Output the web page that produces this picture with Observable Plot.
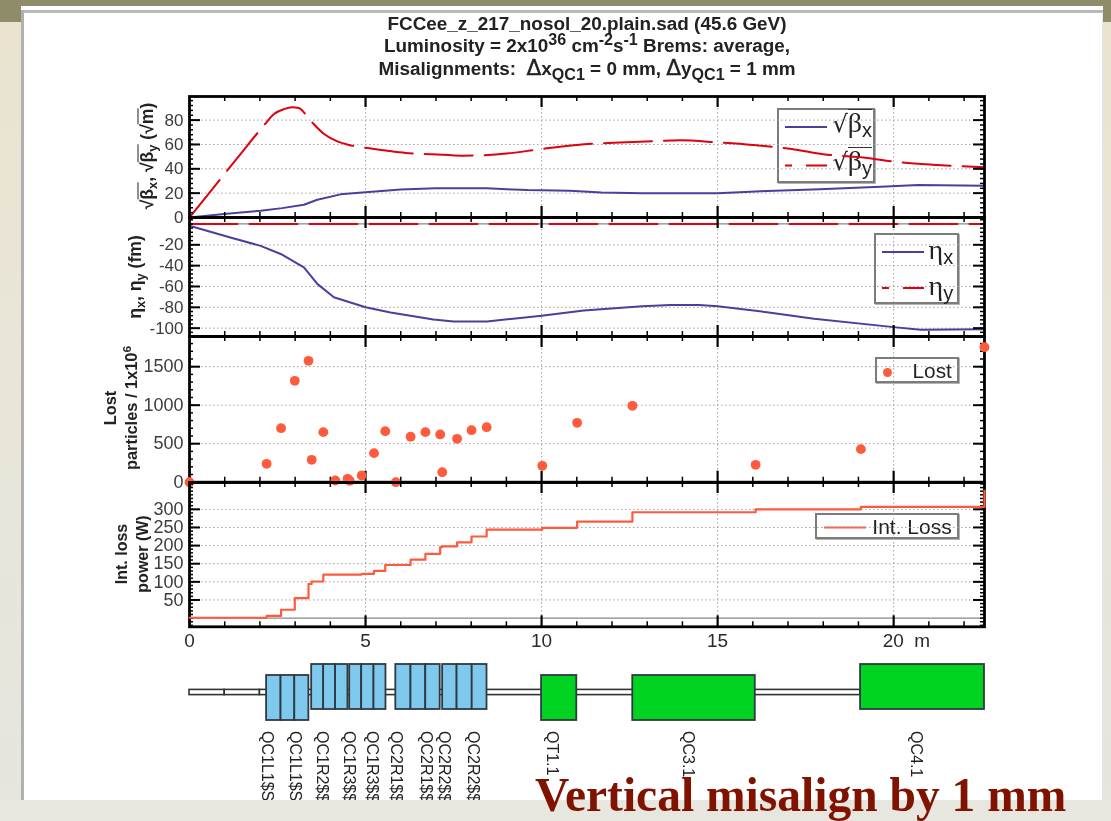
<!DOCTYPE html>
<html><head><meta charset="utf-8">
<script src="https://cdn.jsdelivr.net/npm/d3@7"></script>
<script src="https://cdn.jsdelivr.net/npm/@observablehq/plot@0.6"></script>
<style>
html,body{margin:0;padding:0;background:#e6e4dc;overflow:hidden}
#page{position:relative;width:1111px;height:821px;overflow:hidden;font-family:"Liberation Sans",Arial,sans-serif;filter:blur(.55px)}
.ytitle{position:absolute;transform:translate(-50%,-50%) rotate(-90deg);white-space:nowrap;text-align:center;font-weight:bold;color:#222;line-height:21px;font-size:16px}
.ytitle sub,.ytitle sup,.leg sub{font-size:.72em;line-height:0}
.bar{border-top:1.5px solid #222;padding-top:0;display:inline-block;line-height:1}
.leg{position:absolute;border:2px solid #7c7c7c;box-shadow:1px 1px 0 #b4b4b4;box-sizing:border-box;color:#222;z-index:1}
.leg svg{position:absolute;left:-.5px;top:-.5px;overflow:visible}
.leg span.t{position:absolute;white-space:nowrap}
#title{position:absolute;left:587px;top:13px;transform:translateX(-50%);text-align:center;font-weight:bold;font-size:18.9px;line-height:22px;color:#222;white-space:nowrap;z-index:2}
#title sup{font-size:.85em;line-height:0;vertical-align:.45em}
#title sub{font-size:.85em;line-height:0;vertical-align:-.3em}
#title .d{font-size:1.15em;font-family:"DejaVu Sans";font-weight:normal;-webkit-text-stroke:.4px #222}
</style></head>
<body><div id="page"></div>
<script>
// ---- values ----
const sMax = 22.58;
const betaS  = [0,0.5,1,1.5,2.11,2.4,2.68,2.92,3.1,3.42,3.82,4.2,4.53,5,5.57,6.14,6.9,7.75,9,10,11,12.6,13.95,15,16,17.1,18,19.25,20,21.1,22.58];
const betaY  = [0,18,36,54,75.5,85,89,90.5,90,80,68.6,62.6,59.6,57.3,55,53,52,50.8,52.5,56.3,59.6,62,63.4,61.7,59.6,56.3,52,48.9,46,43.4,41.3];
const betaXs = [0,0.98,2.02,2.63,3.25,3.63,4.29,5,6,7,8.45,9.6,10.8,11.7,12.86,15,16.08,17.9,19.63,20.7,22.58];
const betaX  = [0,2.8,5.5,7.7,10.5,14.6,19,20.7,23,24,24,22.5,22,20.6,20,20,21.4,23.3,25.3,26.6,26];
const etaS   = [0,1.16,2.02,2.59,3.25,3.63,4.1,5,5.71,6.93,7.5,8.45,10,11.2,12.86,13.66,14.47,15,16.4,17.74,20,20.77,22.58];
const etaX   = [-1.7,-13,-21,-28.8,-41.6,-57.5,-70.3,-80,-85,-91.7,-93.6,-93.6,-88,-83,-79,-77.7,-77.7,-79,-84.7,-91,-99,-101.5,-101];
const etaYs  = [0,22.58];
const etaY   = [0,0];
const lostS  = [0,2.19,2.6,2.99,3.38,3.47,3.8,4.14,4.49,4.55,4.89,5.24,5.56,5.86,6.28,6.7,7.12,7.18,7.6,8.01,8.44,10.02,11.01,12.58,16.08,19.07,22.58];
const lost   = [0,239,701,1317,1576,291,650,22,44,18,87,377,662,0,590,650,620,130,563,675,714,213,771,992,226,429,1753];
const intLoss= [1,6,23,55,94,101,120,120,120,120,122,130,146.5,146.5,161,177,196,198,209,225,244,249,266,292,300,307,351];
const sliceStart = [2.19,2.6,2.99,3.47,3.81,4.15,4.55,4.89,5.24,5.86,6.29,6.71,7.19,7.6,8.03,10,12.59,19.06];
const sliceEnd   = [2.6,2.99,3.39,3.81,4.15,4.5,4.89,5.24,5.58,6.29,6.71,7.12,7.6,8.03,8.45,11,16.07,22.58];
const sliceLow   = [-28,-28,-28,-17,-17,-17,-17,-17,-17,-17,-17,-17,-17,-17,-17,-28,-28,-17];
const sliceHigh  = [17,17,17,28,28,28,28,28,28,28,28,28,28,28,28,17,17,28];
const sliceKind  = ["QC","QC","QC","QC","QC","QC","QC","QC","QC","QC","QC","QC","QC","QC","QC","QT","QT","QT"];
const pipeStart  = [0,1,2];
const pipeEnd    = [1,2,19.06];
const elementNames = ["QC1L1$S","QC1L1$S","QC1R2$$","QC1R3$$","QC1R3$$","QC2R1$$","QC2R1$$","QC2R2$$","QC2R2$$","QT1.1","QC3.1","QC4.1"];
const elementS     = [2.21,3.01,3.78,4.52,5.2,5.88,6.72,7.22,8.06,10.31,14.15,20.63];
const xMajor = [5,10,15,20];
const xMinor = d3.range(0,23).filter(d=>d%5);

// ---- colours ----
const BLUE="#4b3f9c", RED="#df0010", CORAL="#ff5a3c", GREY="#a0a0a0";

const page = document.getElementById("page");
function div(css,html,cls){const e=document.createElement("div");e.style.cssText=css;if(cls)e.className=cls;if(html)e.innerHTML=html;page.appendChild(e);return e;}

// page background
div("position:absolute;left:0;top:0;width:1111px;height:821px;background:linear-gradient(#e9e3cf 0,#e9e5d8 350px,#e6e5de 821px)");
div("position:absolute;left:0;top:0;width:1111px;height:22px;background:#8f8c69");
div("position:absolute;left:21px;top:6px;width:1082px;height:794px;background:#fff");
div("position:absolute;left:21px;top:10px;width:1082px;height:2.5px;background:#b9b9b9");
div("position:absolute;left:21px;top:10px;width:2.5px;height:790px;background:#b0b0b0");
div("position:absolute;left:1101.5px;top:12px;width:1.5px;height:788px;background:#e4e4ea");

// title
div("", `FCCee_z_217_nosol_20.plain.sad (45.6 GeV)<br>Luminosity = 2x10<sup>36</sup> cm<sup>-2</sup>s<sup>-1</sup> Brems: average,<br>Misalignments:&nbsp; <span class="d">Δ</span>x<sub>QC1</sub> = 0 mm, <span class="d">Δ</span>y<sub>QC1</sub> = 1 mm`).id="title";

// panels
const ML=70, MR=12, W=795;
function panel({top,bottom,domain,major,minor,size,extra=[],over=[],xLabels=false,mb=14}){
  const H=bottom-top, MT=12;
  const side=(vals,len,sw)=>[
    Plot.tickY(vals,{y:d=>d,insetRight:W-len,stroke:"#000",strokeWidth:sw}),
    Plot.tickY(vals,{y:d=>d,insetLeft:W-len,stroke:"#000",strokeWidth:sw})];
  const topBot=(vals,len,sw)=>[
    Plot.tickX(vals,{x:d=>d,insetBottom:H-len,stroke:"#000",strokeWidth:sw}),
    Plot.tickX(vals,{x:d=>d,insetTop:H-len,stroke:"#000",strokeWidth:sw})];
  const plot=Plot.plot({
    width:ML+W+MR, height:H+MT+mb,
    marginLeft:ML, marginRight:MR, marginTop:MT, marginBottom:mb,
    style:{background:"transparent",overflow:"visible",fontFamily:"Liberation Sans, Arial, sans-serif"},
    x:{domain:[0,sMax],axis:null},
    y:{domain,axis:null},
    marks:[
      Plot.ruleX(xMajor,{x:d=>d,stroke:GREY,strokeDasharray:"1.5 2.5",strokeWidth:1}),
      Plot.ruleY(major,{y:d=>d,stroke:GREY,strokeDasharray:"1.5 2.5",strokeWidth:1}),
      ...extra,
      ...side(minor,4,1.5), ...side(major,11,2),
      ...topBot(xMinor,5,1.5), ...topBot(xMajor,11,2.2),
      Plot.frame({stroke:"#000",strokeWidth:2.8}),
      ...over,
      Plot.axisY(major,{anchor:"left",tickSize:0,tickPadding:6,fontSize:size,fill:"#3c3c3c",stroke:"none",label:null,tickFormat:d=>String(d)}),
      ...(xLabels?[
        Plot.axisX([0,5,10,15],{anchor:"bottom",tickSize:0,tickPadding:7,fontSize:19,fill:"#2a2a2a",stroke:"none",label:null,tickFormat:d=>String(d)}),
        Plot.text([20],{x:d=>d,y:domain[0],text:()=>"20\u00a0\u00a0m",textAnchor:"start",dx:-11,dy:14,fontSize:19,fill:"#2a2a2a"})
      ]:[])
    ]
  });
  plot.style.position="absolute";
  plot.style.left=(189-ML)+"px";
  plot.style.top=(top-MT)+"px";
  plot.style.zIndex=2;
  page.appendChild(plot);
}
const dash="48 12";
panel({top:96,bottom:217,domain:[0,99.4],major:[0,20,40,60,80],minor:d3.range(0,100,4),size:17,
  extra:[
    Plot.line(betaXs.map((s,i)=>[s,betaX[i]]),{x:"0",y:"1",stroke:BLUE,strokeWidth:2}),
    Plot.line(betaS.map((s,i)=>[s,betaY[i]]),{x:"0",y:"1",stroke:RED,strokeWidth:2,strokeDasharray:dash,curve:"monotone-x"})
  ]});
panel({top:217,bottom:336,domain:[-108,6.2],major:[-20,-40,-60,-80,-100],minor:d3.range(-108,6,4),size:17,
  extra:[
    Plot.ruleY([0],{y:d=>d,stroke:"#888",strokeWidth:1.2}),
    Plot.line(etaS.map((s,i)=>[s,etaX[i]]),{x:"0",y:"1",stroke:BLUE,strokeWidth:2}),
    Plot.line(etaYs.map((s,i)=>[s,etaY[i]]),{x:"0",y:"1",stroke:RED,strokeWidth:2,strokeDasharray:dash})
  ]});
panel({top:336,bottom:481.7,domain:[0,1892],major:[0,500,1000,1500],minor:d3.range(0,1900,100),size:18,
  over:[
    Plot.dot(lostS.map((s,i)=>[s,lost[i]]),{x:"0",y:"1",r:4.9,fill:CORAL,stroke:"none"})
  ]});
panel({top:481.7,bottom:626,domain:[-24,374],major:[50,100,150,200,250,300],minor:d3.range(-20,375,10),size:18,xLabels:true,mb:40,
  extra:[
    Plot.ruleY([0],{y:d=>d,stroke:"#888",strokeWidth:1.2})
  ],
  over:[
    Plot.line(lostS.map((s,i)=>[s,intLoss[i]]),{x:"0",y:"1",stroke:CORAL,strokeWidth:2.2,curve:"step-after"})
  ]});

// beamline
const beamTable = sliceStart.map((s,i)=>({x1:s,x2:sliceEnd[i],y1:sliceLow[i],y2:sliceHigh[i],kind:sliceKind[i]}));
const beam = Plot.plot({
  width:ML+W+MR, height:162, marginLeft:ML, marginRight:MR, marginTop:0, marginBottom:0,
  style:{background:"transparent",overflow:"visible",fontFamily:"Liberation Sans, Arial, sans-serif"},
  x:{domain:[0,sMax],axis:null}, y:{domain:[-112,50],axis:null},
  marks:[
    Plot.rectY(pipeStart.map((s,i)=>({x1:s,x2:pipeEnd[i]})),{x1:"x1",x2:"x2",y1:-2.6,y2:2.6,fill:"#fff",stroke:"#333",strokeWidth:1.6}),
    Plot.rect(beamTable,{x1:"x1",x2:"x2",y1:"y1",y2:"y2",fill:d=>d.kind==="QC"?"#7fc9ee":"#00d322",stroke:"#2f3a40",strokeWidth:1.8}),
    Plot.text(elementNames.map((n,i)=>[n,elementS[i]]),{x:"1",y:-38.5,text:"0",rotate:90,textAnchor:"start",fontSize:16,fill:"#222"})
  ]
});
beam.style.cssText+=";position:absolute;left:"+(189-ML)+"px;top:641.7px;z-index:2";
page.appendChild(beam);

// axis titles
const sqrtB = s=>`√<span class="bar">β<sub>${s}</sub></span>`;
function ytitle(x,y,html,fs){const e=div(`left:${x}px;top:${y}px;font-size:${fs}px`,html,"ytitle");e.style.zIndex=2;}
ytitle(147,156,`${sqrtB("x")}, ${sqrtB("y")} (√<span class="bar">m</span>)`,17.6);
ytitle(135,277,`η<sub>x</sub>, η<sub>y</sub> (fm)`,17.6);
ytitle(121,408,`Lost<br>particles / 1x10<sup>6</sup>`,16.4);
ytitle(132,554,`Int. loss<br>power (W)`,16);

// legends
function legend(x0,y0,x1,y1,inner){
  return div(`left:${x0}px;top:${y0}px;width:${x1-x0}px;height:${y1-y0}px`,inner,"leg");
}
const swatch=(x,y,c,d)=>`<svg width="1" height="1"><line x1="${x}" x2="${x+42}" y1="${y}" y2="${y}" stroke="${c}" stroke-width="2" ${d?`stroke-dasharray="${d}"`:""}/></svg>`;
const symbolLabel=(x,y,sym,s,bar)=>`<span class="t" style="left:${x}px;top:${y}px;font-family:'Liberation Serif',serif;font-size:28px;line-height:30px">${bar?'<span style="font-family:\'DejaVu Sans\';font-size:24px">√</span>':''}<span style="${bar?'border-top:1.5px solid #333;':''}display:inline-block;line-height:26px">${sym}<sub style="font-family:'Liberation Sans';font-size:20px;vertical-align:-.25em">${s}</sub></span></span>`;
legend(776.5,107.5,874.5,183,
  swatch(7,18,BLUE)+swatch(7,56.5,RED,"7 14 21")+symbolLabel(54,-1.5,"β","x",true)+symbolLabel(54,36,"β","y",true));
legend(873.5,233,959,304,
  swatch(7,17,BLUE)+swatch(7,53,RED,"7 14 21")+symbolLabel(53,0,"η","x")+symbolLabel(53,36,"η","y"));
legend(875,357.3,959,383,
  `<div style="position:absolute;left:6px;top:8.5px;width:9px;height:9px;border-radius:50%;background:${CORAL}"></div><span class="t" style="left:35.5px;top:0;font-size:20.8px;line-height:23px">Lost</span>`);
legend(815.3,513,959,538.5,
  swatch(7,12.5,CORAL)+`<span class="t" style="left:55px;top:0;font-size:21px;line-height:23px">Int. Loss</span>`);

// bottom band covers the clipped magnet names, the note sits on top of it
div("position:absolute;left:0;top:800px;width:1111px;height:21px;background:#e7e6df;z-index:3");
div("position:absolute;left:535px;top:769px;white-space:nowrap;font:bold 47.5px/52px 'Liberation Serif',serif;color:#7f1300;z-index:4","Vertical misalign by 1 mm");
</script>
</body></html>
